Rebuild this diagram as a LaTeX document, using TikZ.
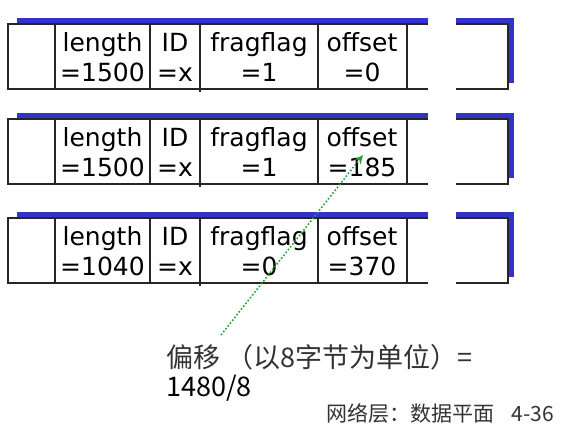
\documentclass[tikz,border=0pt]{standalone}
\usepackage{fontspec}
\setmainfont{DejaVu Sans}
\newfontfamily\cjk{Noto Sans CJK SC}
\usetikzlibrary{arrows.meta,positioning,calc}

\definecolor{shadowblue}{RGB}{51,51,204}
\definecolor{dotgreen}{RGB}{40,160,50}

\begin{document}
\begin{tikzpicture}[
  x=1pt, y=-1pt, >=Stealth,
  shadow/.style={fill=shadowblue},
  frame/.style={draw=black!85, fill=white, line width=1.6pt},
  sep/.style={draw=black!85, line width=1.6pt},
  field/.style={align=center, inner sep=0pt, font=\fontsize{25}{30}\selectfont},
  note/.style={align=left, anchor=north west, inner sep=0pt,
               font=\cjk\fontsize{27}{29}\selectfont},
  arr/.style={->, dotgreen, line width=1.6pt, dotted,
              arrows={-{Stealth[length=9pt,width=8pt,line cap=butt]}}},
]
  \useasboundingbox (0,0) rectangle (588,430);

  % three fragments
  \foreach \t/\len/\flag/\off/\n in {24/1500/1/0/a, 119/1500/1/185/b, 218/1040/0/370/c}{
    \fill[shadow] (17,\t-6) rectangle (514,\t+59);
    \filldraw[frame] (8,\t) rectangle (508,\t+65);
    \fill[white] (428,\t-7) rectangle (456,\t+67);
    \draw[sep] (55,\t) -- (55,\t+65);
    \draw[sep] (150,\t) -- (150,\t+65);
    \draw[sep] (200,\t) -- (200,\t+68);
    \draw[sep] (318,\t) -- (318,\t+65);
    \draw[sep] (407,\t) -- (407,\t+65);
    \node[field] (len\n)  at (102.5,\t+33) {length\\=\len};
    \node[field] (id\n)   at (175,\t+33)   {ID\\=x};
    \node[field] (flag\n) at (259,\t+33)   {fragflag\\=\flag};
    \node[field] (off\n)  at (362,\t+33)   {offset\\=\off};
  }

  \node[note] (expl) at (166,344) {{\color{black!80}偏移 （以8字节为单位）=}\\1480/8};
  \node[anchor=base east, inner sep=0pt, text=black!80,
        font=\cjk\fontsize{21}{23}\selectfont] (page) at (554,421) {网络层：数据平面\hspace{0.8em}4-36};

  \coordinate (tip) at (363,155);
  \draw[arr] ([xshift=55pt,yshift=9pt]expl.north west) -- (tip);
\end{tikzpicture}
\end{document}
